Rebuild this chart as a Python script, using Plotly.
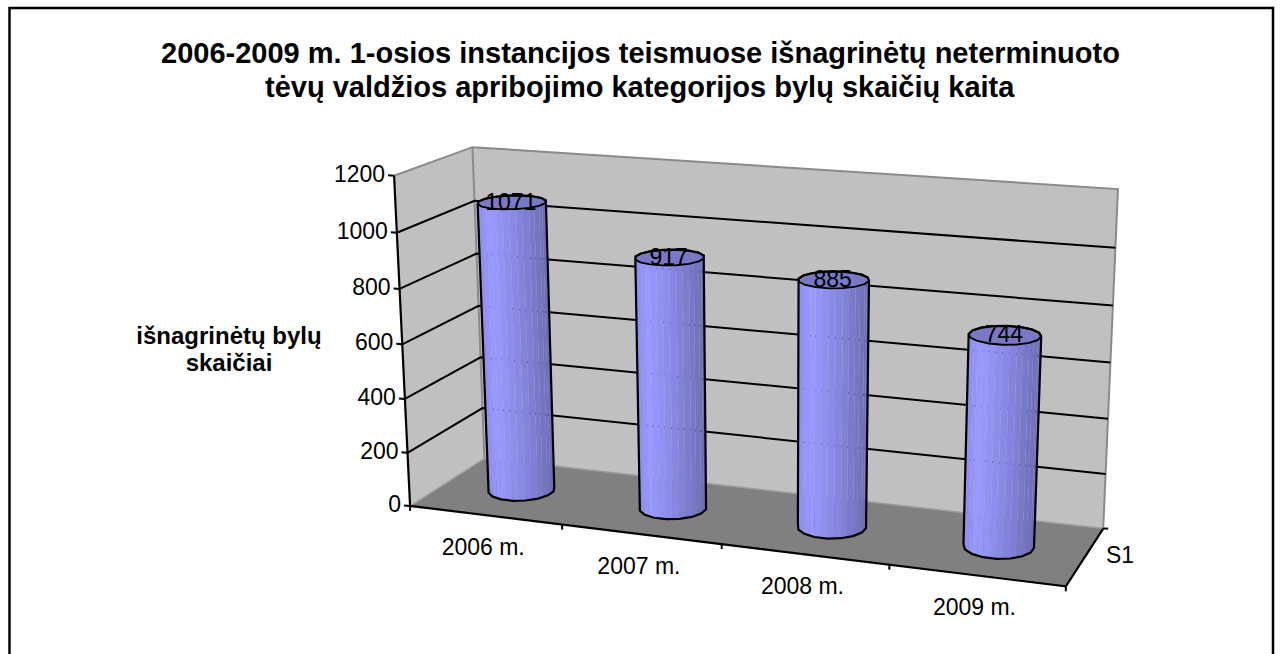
import numpy as np
import plotly.graph_objects as go

# ---- data ----
categories = ["2006 m.", "2007 m.", "2008 m.", "2009 m."]
values = [1071, 917, 885, 744]
value_ticks = [0, 200, 400, 600, 800, 1000, 1200]
series_label = "S1"
title_lines = ["2006-2009 m. 1-osios instancijos teismuose išnagrinėtų neterminuoto",
               "tėvų valdžios apribojimo kategorijos bylų skaičių kaita"]
y_title_lines = ["išnagrinėtų bylų", "skaičiai"]

# ---- 3D box fitted to the page: (category u, value v, depth d) -> pixel ----
N = len(categories)
VMAX = value_ticks[-1]
corners = [
    ((0, 0, 0), (409.5, 506)), ((0, VMAX, 0), (394.5, 176)),
    ((0, 0, 1), (485, 458)), ((0, VMAX, 1), (472, 147)),
    ((N, 0, 1), (1103, 529)), ((N, VMAX, 1), (1118, 189)),
    ((N, 0, 0), (1066, 586)),
]
A, b = [], []
for (u, v, d), (x, y) in corners:
    v = v / VMAX
    A.append([u, v, d, 1, 0, 0, 0, 0, -x*u, -x*v, -x*d]); b.append(x)
    A.append([0, 0, 0, 0, u, v, d, 1, -y*u, -y*v, -y*d]); b.append(y)
P = np.linalg.lstsq(np.array(A, float), np.array(b, float), rcond=None)[0]
P = np.append(P, 1.0).reshape(3, 4)


def proj(u, v, d):
    p = P @ np.array([u, v / VMAX, d, 1.0])
    return p[0] / p[2], p[1] / p[2]


fig = go.Figure()


def poly(pts, color):
    xs, ys = zip(*pts)
    fig.add_trace(go.Scatter(x=list(xs) + [xs[0]], y=list(ys) + [ys[0]], mode="lines", fill="toself",
                             fillcolor=color, line=dict(width=0), hoverinfo="skip"))


def line(pts, color="black", width=2):
    xs, ys = zip(*pts)
    fig.add_trace(go.Scatter(x=list(xs), y=list(ys), mode="lines",
                             line=dict(color=color, width=width), hoverinfo="skip"))


def text(x, y, s, pos="middle center", size=23, bold=False):
    fig.add_trace(go.Scatter(x=[x], y=[y], mode="text", text=["<b>%s</b>" % s if bold else s],
                             textposition=pos,
                             textfont=dict(family="Liberation Sans", size=size, color="black"),
                             hoverinfo="skip"))


# walls and floor
WALL, FLOOR, EDGE = "#C0C0C0", "#808080", "#8A8A8A"
poly([proj(0, 0, 0), proj(0, VMAX, 0), proj(0, VMAX, 1), proj(0, 0, 1)], WALL)
poly([proj(0, 0, 1), proj(0, VMAX, 1), proj(N, VMAX, 1), proj(N, 0, 1)], WALL)
poly([proj(0, 0, 0), proj(0, 0, 1), proj(N, 0, 1), proj(N, 0, 0)], FLOOR)
line([proj(0, VMAX, 0), proj(0, VMAX, 1), proj(N, VMAX, 1), proj(N, 0, 1)], EDGE, 2)
line([proj(0, VMAX, 1), proj(0, 0, 1)], EDGE, 2)
line([proj(0, 0, 1), proj(N, 0, 1)], "#9A9A9A", 1.5)
line([proj(0, 0, 0), proj(0, 0, 1)], "#A8A8A8", 1.5)

# gridlines
for t in value_ticks[1:-1]:
    line([proj(0, t, 0), proj(0, t, 1), proj(N, t, 1)])

# axes and ticks
line([proj(0, VMAX, 0), proj(0, 0, 0), proj(N, 0, 0), proj(N, 0, 1)], width=2.2)
for t in value_ticks:
    x, y = proj(0, t, 0)
    line([(x - 6, y - 0.5), (x, y)])
    text(x - 9, y, str(t), "middle left")
for i in range(N + 1):
    x, y = proj(i, 0, 0)
    line([(x, y), (x, y + 5)])
x, y = proj(N, 0, 1)
line([(x, y), (x + 5, y)])
text(1120, 557, series_label)

# cylinders
RU, RD, DC, SIDES = 0.2, 0.21, 0.5, 16


def shade(f):
    # f = 0 left edge .. 1 right edge of the silhouette
    stops = [(0.0, (140, 140, 240)), (0.18, (153, 153, 255)), (0.55, (135, 135, 226)), (1.0, (108, 108, 180))]
    for (a, ca), (b_, cb) in zip(stops, stops[1:]):
        if f <= b_:
            t = (f - a) / (b_ - a)
            return "rgb(%d,%d,%d)" % tuple(round(p + (q - p) * t) for p, q in zip(ca, cb))
    return "rgb(108,108,180)"


def hull(points):
    pts = sorted(set(points))
    def half(seq):
        out = []
        for p in seq:
            while len(out) > 1 and ((out[-1][0]-out[-2][0])*(p[1]-out[-2][1])
                                    - (out[-1][1]-out[-2][1])*(p[0]-out[-2][0])) <= 0:
                out.pop()
            out.append(p)
        return out[:-1]
    return half(pts) + half(pts[::-1])


def mid(p, q):
    return ((p[0] + q[0]) / 2, (p[1] + q[1]) / 2)


for i, val in enumerate(values):
    uc = i + 0.5
    th = 2 * np.pi * (np.arange(SIDES) + 0.5) / SIDES
    us, ds = uc + RU * np.cos(th), DC + RD * np.sin(th)
    bot = [proj(a, 0, c) for a, c in zip(us, ds)]
    top = [proj(a, val, c) for a, c in zip(us, ds)]
    xmin, xmax = min(p[0] for p in bot), max(p[0] for p in bot)
    for k in np.argsort(-ds):
        k2 = (k + 1) % SIDES
        if ds[k] > DC and ds[k2] > DC:
            continue
        bm, tm = mid(bot[k], bot[k2]), mid(top[k], top[k2])
        fa = np.clip(((bot[k][0] + bm[0]) / 2 - xmin) / (xmax - xmin), 0, 1)
        fb = np.clip(((bot[k2][0] + bm[0]) / 2 - xmin) / (xmax - xmin), 0, 1)
        poly([bot[k], bm, tm, top[k]], shade(fa))
        poly([bm, bot[k2], top[k2], tm], shade(fb))
    poly(top, "#7878C4")
    h = hull(bot + top)
    line(h + [h[0]], width=2.2)
    line(top + [top[0]], width=1.8)
    cx, cy = proj(uc, val, DC)
    text(cx - 1, cy + 1.5, str(val))
    lx, ly = proj(uc, 0, 0)
    text(lx - 2, ly + 34, categories[i])

# titles (one text per line to hold the reference's line pitch)
for j, s in enumerate(y_title_lines):
    text(229, 337.5 + 27 * j, s, size=24, bold=True)
for j, s in enumerate(title_lines):
    fig.add_annotation(x=640, y=53 + 34 * j, xref="x", yref="y", text="<b>%s</b>" % s, showarrow=False,
                       font=dict(family="Liberation Sans", size=29, color="black"))

# outer frame (runs off the bottom of the page)
fig.add_shape(type="rect", x0=9.5, y0=8, x1=1273, y1=700, xref="x", yref="y",
              line=dict(color="black", width=2.5), fillcolor="rgba(0,0,0,0)")

fig.update_layout(width=1283, height=654, margin=dict(l=0, r=0, t=0, b=0), showlegend=False,
                  paper_bgcolor="white", plot_bgcolor="white",
                  xaxis=dict(range=[0, 1283], visible=False, fixedrange=True),
                  yaxis=dict(range=[654, 0], visible=False, fixedrange=True))
fig.write_html("out.html", config={"displayModeBar": False},
               post_script="document.body.style.margin='0';document.body.style.overflow='hidden';")
